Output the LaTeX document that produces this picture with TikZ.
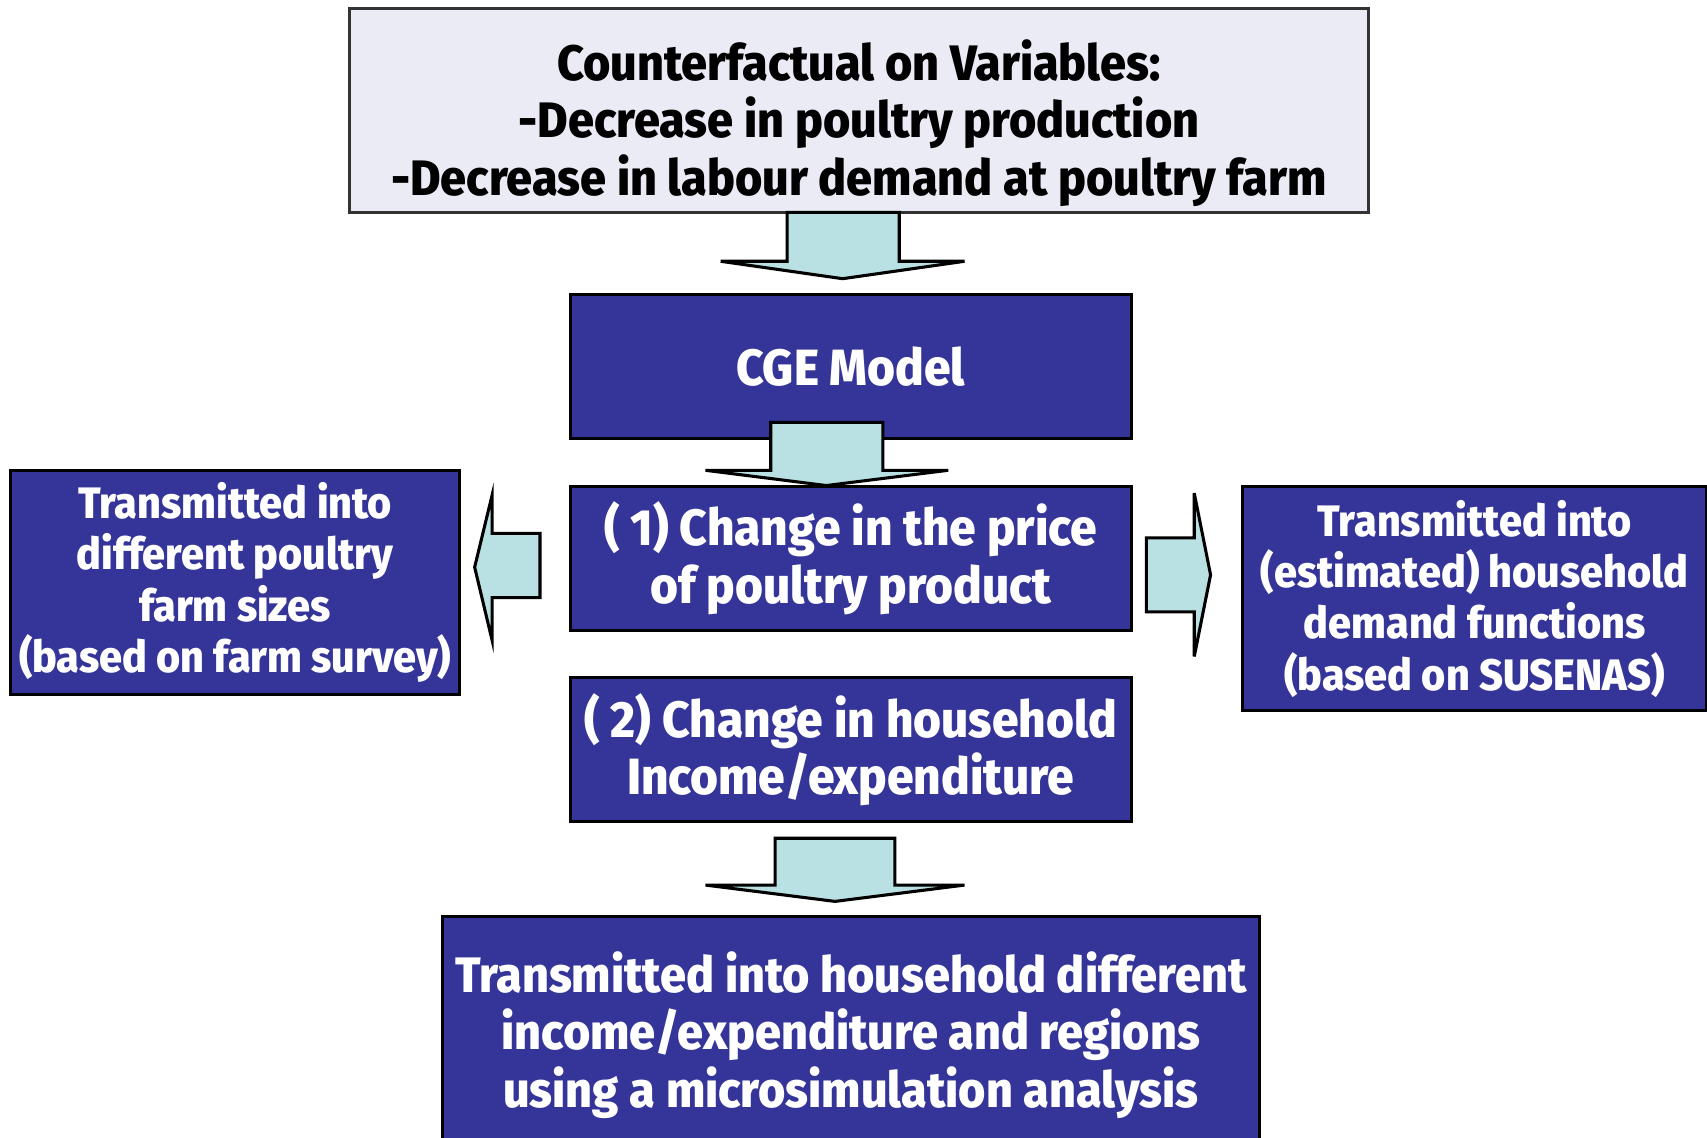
\documentclass[tikz,border=0pt]{standalone}
\usepackage{fontspec}
\setmainfont{Fira Sans}[FakeStretch=0.94, BoldFont={Fira Sans ExtraBold}]
\usetikzlibrary{positioning}
\definecolor{boxblue}{RGB}{53,53,153}
\definecolor{boxgrey}{RGB}{235,235,245}
\definecolor{arrowcyan}{RGB}{185,224,226}

\begin{document}
\begin{tikzpicture}[
    x=0.01cm, y=-0.01cm,
    box/.style={rectangle, draw=black, line width=0.8pt, fill=boxblue, text=white, inner sep=0pt, align=center, minimum width=5.15cm, minimum height=1.32cm, font=\fontsize{13.3}{15}\selectfont\bfseries},
    sidebox/.style={box, minimum height=2.06cm, font=\fontsize{11.5}{13.4}\selectfont\bfseries},
    boxtext/.style={align=center, inner sep=0pt, font=\fontsize{13}{15}\selectfont\bfseries},
    blockarrow/.style={draw=black, line width=0.8pt, fill=arrowcyan, line join=miter},
]
    \useasboundingbox (0,0) rectangle (1568,1045);
    \clip (0,0) rectangle (1568,1045);

    % counterfactual at top
    \node[box, fill=boxgrey, draw=black!80, minimum width=9.36cm, minimum height=1.87cm] (counter) at (789,101.5) {};
    \node[boxtext, text=black, below=0.29cm of counter.north] (counter-text) {Counterfactual on Variables:\\-Decrease in poultry production\\-Decrease in labour demand at poultry farm};

    % middle column
    \node[box, below=0.73cm of counter, xshift=-0.075cm] (cge) {CGE Model};
    \node[box, below=0.41cm of cge] (price) {( 1) Change in the price\\of poultry product};
    \node[box, below=0.41cm of price] (income) {( 2) Change in household\\Income/expenditure};
    \node[box, below=0.84cm of income, minimum width=7.5cm, minimum height=2.3cm] (micro) {};
    \node[boxtext, text=white, below=0.33cm of micro.north] (micro-text) {Transmitted into household different\\income/expenditure and regions\\using a microsimulation analysis};

    % side boxes
    \node[sidebox, minimum width=4.12cm] (farm) at (216,535) {Transmitted into\\different poultry\\farm sizes\\(based on farm survey)};
    \node[sidebox, minimum width=4.26cm] (demand) at (1354.5,550) {Transmitted into\\(estimated) household\\demand functions\\(based on SUSENAS)};

    % block arrows
    \draw[blockarrow] (723,195) -- (723,240) -- (662,240) -- (774,256) -- (886,240) -- (826,240) -- (826,195) -- cycle;
    \draw[blockarrow] (708,388) -- (708,432) -- (648,432) -- (759,446) -- (871,432) -- (811,432) -- (811,388) -- cycle;
    \draw[blockarrow] (712,770) -- (712,813) -- (648,813) -- (767,828) -- (886,813) -- (822,813) -- (822,770) -- cycle;
    \draw[blockarrow] (496,490) -- (452,490) -- (452,455) -- (436,521) -- (452,588) -- (452,549) -- (496,549) -- cycle;
    \draw[blockarrow] (1053,494) -- (1097,494) -- (1097,453) -- (1112,528) -- (1097,603) -- (1097,562) -- (1053,562) -- cycle;

\end{tikzpicture}
\end{document}
